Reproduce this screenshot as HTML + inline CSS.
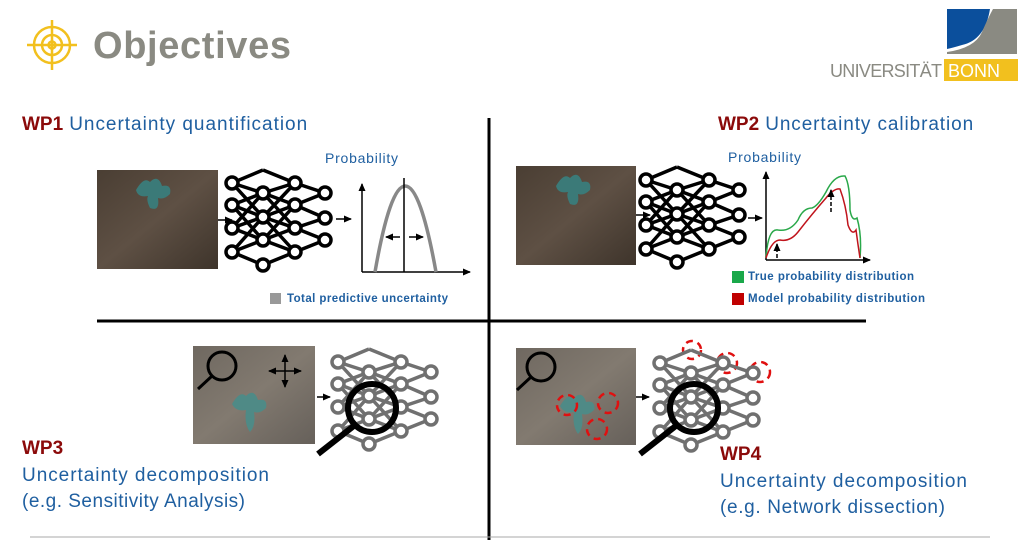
<!DOCTYPE html>
<html><head><meta charset="utf-8"><style>
html,body{margin:0;padding:0;background:#fff;}
svg{display:block;font-family:"Liberation Sans",sans-serif;}
</style></head><body>
<svg width="1024" height="551" viewBox="0 0 1024 551" xmlns="http://www.w3.org/2000/svg">
<defs>
<linearGradient id="soil" x1="0" y1="0" x2="1" y2="1">
<stop offset="0" stop-color="#4a3e33"/><stop offset="0.5" stop-color="#5e5044"/><stop offset="1" stop-color="#3e342b"/></linearGradient>
<linearGradient id="soil2" x1="0" y1="0" x2="1" y2="1">
<stop offset="0" stop-color="#6f6860"/><stop offset="0.5" stop-color="#827a70"/><stop offset="1" stop-color="#66605a"/></linearGradient>
<marker id="ar" markerUnits="userSpaceOnUse" markerWidth="8" markerHeight="8" refX="7" refY="4" orient="auto"><path d="M0,0.5L8,4L0,7.5z" fill="#000"/></marker>
<g id="net">
<g stroke-width="3.5" fill="none">
<path d="M0,13L31,0M0,13L31,23M0,35L31,23M0,35L31,47M0,58L31,47M0,58L31,70M0,82L31,70M0,82L31,95
M0,13L31,47M0,35L31,70M0,58L31,23M0,82L31,47
M31,0L63,13M31,23L63,13M31,23L63,35M31,47L63,35M31,47L63,58M31,70L63,58M31,70L63,82M31,95L63,82
M31,23L63,58M31,47L63,13M31,47L63,82M31,70L63,35
M63,13L93,23M63,35L93,23M63,35L93,48M63,58L93,48M63,58L93,70M63,82L93,70"/>
</g>
<g stroke-width="3.5" fill="#fff">
<circle cx="0" cy="13" r="6"/><circle cx="0" cy="35" r="6"/><circle cx="0" cy="58" r="6"/><circle cx="0" cy="82" r="6"/>
<circle cx="31" cy="23" r="6"/><circle cx="31" cy="47" r="6"/><circle cx="31" cy="70" r="6"/><circle cx="31" cy="95" r="6"/>
<circle cx="63" cy="13" r="6"/><circle cx="63" cy="35" r="6"/><circle cx="63" cy="58" r="6"/><circle cx="63" cy="82" r="6"/>
<circle cx="93" cy="23" r="6"/><circle cx="93" cy="48" r="6"/><circle cx="93" cy="70" r="6"/>
</g>
</g>
</defs>

<!-- header -->
<g stroke="#f2c01e" stroke-width="2.5" fill="none">
<circle cx="52" cy="45" r="18"/><circle cx="52" cy="45" r="10"/><circle cx="52" cy="45" r="3.5"/>
<path d="M52,20V70M27,45H77"/>
</g>
<text x="93" y="58" font-size="38" font-weight="bold" fill="#8a8a82" textLength="198">Objectives</text>
<path d="M947,9H990Q985,40 962,45Q952,48 947,49z" fill="#0b4f9c"/>
<path d="M993,9H1017V54H947V52Q975,48 982,32Q988,18 993,9z" fill="#8a8a82"/>
<text x="830" y="77" font-size="18" fill="#8a8a82" textLength="112">UNIVERSITÄT</text>
<rect x="944" y="59" width="74" height="22" fill="#f2c01e"/>
<text x="948" y="77" font-size="18" fill="#fff" textLength="52">BONN</text>

<!-- dividers -->
<line x1="489" y1="118" x2="489" y2="540" stroke="#000" stroke-width="3"/>
<line x1="97" y1="321" x2="866" y2="321" stroke="#000" stroke-width="3"/>
<line x1="30" y1="537" x2="990" y2="537" stroke="#aaa" stroke-width="1"/>

<!-- WP1 -->
<text x="22" y="130" font-size="19"><tspan fill="#8b0a0a" font-weight="bold">WP1</tspan><tspan fill="#1f5fa0" dx="6" textLength="238">Uncertainty quantification</tspan></text>
<rect x="97" y="170" width="121" height="99" fill="url(#soil)"/>
<path d="M136,190q8,-14 14,-8q8,-8 12,4q10,-2 8,8q-6,6 -12,4q2,14 -8,10q-4,-8 -2,-12q-10,2 -12,-6z" fill="#3b7a78"/>
<line x1="218" y1="220" x2="232" y2="220" stroke="#000" stroke-width="1.5" marker-end="url(#ar)"/>
<use href="#net" x="232" y="170" stroke="#000"/>
<line x1="336" y1="219" x2="351" y2="219" stroke="#000" stroke-width="1.5" marker-end="url(#ar)"/>
<text x="325" y="163" font-size="14" fill="#1f5fa0" textLength="73">Probability</text>
<line x1="362" y1="272" x2="362" y2="184" stroke="#000" stroke-width="1.5" marker-end="url(#ar)"/>
<line x1="362" y1="272" x2="470" y2="272" stroke="#000" stroke-width="1.5" marker-end="url(#ar)"/>
<path d="M375,272Q405,100 436,272" stroke="#888" stroke-width="3.5" fill="none"/>
<line x1="404" y1="178" x2="404" y2="272" stroke="#000" stroke-width="1.5"/>
<line x1="400" y1="237" x2="386" y2="237" stroke="#000" stroke-width="1.5" marker-end="url(#ar)"/>
<line x1="409" y1="237" x2="423" y2="237" stroke="#000" stroke-width="1.5" marker-end="url(#ar)"/>
<rect x="270" y="293" width="11" height="11" fill="#999"/>
<text x="287" y="302" font-size="11.5" font-weight="bold" fill="#1f5fa0" textLength="161">Total predictive uncertainty</text>

<!-- WP2 -->
<text x="718" y="130" font-size="19"><tspan fill="#8b0a0a" font-weight="bold">WP2</tspan><tspan fill="#1f5fa0" dx="6" textLength="208">Uncertainty calibration</tspan></text>
<rect x="516" y="166" width="120" height="99" fill="url(#soil)"/>
<path d="M556,186q8,-14 14,-8q8,-8 12,4q10,-2 8,8q-6,6 -12,4q2,14 -8,10q-4,-8 -2,-12q-10,2 -12,-6z" fill="#3b7a78"/>
<line x1="636" y1="215" x2="650" y2="215" stroke="#000" stroke-width="1.5" marker-end="url(#ar)"/>
<use href="#net" x="646" y="167" stroke="#000"/>
<line x1="748" y1="218" x2="762" y2="218" stroke="#000" stroke-width="1.5" marker-end="url(#ar)"/>
<text x="728" y="162" font-size="14" fill="#1f5fa0" textLength="73">Probability</text>
<line x1="766" y1="260" x2="766" y2="172" stroke="#000" stroke-width="1.5" marker-end="url(#ar)"/>
<line x1="766" y1="260" x2="870" y2="260" stroke="#000" stroke-width="1.5" marker-end="url(#ar)"/>
<path d="M766,258Q768,228 778,230Q790,232 798,220Q803,208 812,208Q818,206 826,192Q834,175 845,176Q850,185 850,210Q852,222 857,218Q862,235 860,258" stroke="#2aa84a" stroke-width="1.5" fill="none"/>
<path d="M766,258Q772,240 780,240Q790,242 798,232Q812,214 826,198Q834,188 840,189Q846,205 848,225Q852,236 856,230Q858,245 860,258" stroke="#c0141c" stroke-width="1.5" fill="none"/>
<line x1="777" y1="258" x2="777" y2="244" stroke="#000" stroke-width="1.5" stroke-dasharray="4,2" marker-end="url(#ar)"/>
<line x1="831" y1="212" x2="831" y2="190" stroke="#000" stroke-width="1.5" stroke-dasharray="4,2" marker-end="url(#ar)"/>
<rect x="732" y="271" width="12" height="12" fill="#1aa84a"/>
<text x="748" y="280" font-size="11.5" font-weight="bold" fill="#1f5fa0" textLength="166">True probability distribution</text>
<rect x="732" y="293" width="12" height="12" fill="#c00000"/>
<text x="748" y="302" font-size="11.5" font-weight="bold" fill="#1f5fa0" textLength="177">Model probability distribution</text>

<!-- WP3 -->
<rect x="193" y="346" width="122" height="98" fill="url(#soil2)"/>
<path d="M232,404q8,-14 14,-8q8,-8 12,4q10,-2 8,8q-6,6 -12,4q2,14 -4,20q-6,-8 -4,-22q-10,2 -14,-6z" fill="#4f8a86"/>
<g stroke="#000" stroke-width="3" fill="none"><circle cx="222" cy="366" r="14"/><path d="M212,376L198,389"/></g>
<g stroke="#000" stroke-width="1.5"><line x1="285" y1="371" x2="285" y2="355" marker-end="url(#ar)"/><line x1="285" y1="371" x2="285" y2="387" marker-end="url(#ar)"/><line x1="285" y1="371" x2="269" y2="371" marker-end="url(#ar)"/><line x1="285" y1="371" x2="301" y2="371" marker-end="url(#ar)"/></g>
<line x1="317" y1="397" x2="330" y2="397" stroke="#000" stroke-width="1.5" marker-end="url(#ar)"/>
<use href="#net" x="338" y="349" stroke="#707070"/>
<g stroke="#000" stroke-width="6" fill="none"><circle cx="372" cy="408" r="24"/><path d="M355,425L318,454"/></g>
<text x="22" y="454" font-size="19" font-weight="bold" fill="#8b0a0a">WP3</text>
<text x="22" y="481" font-size="19" fill="#1f5fa0" textLength="247">Uncertainty decomposition</text>
<text x="22" y="507" font-size="19" fill="#1f5fa0" textLength="223">(e.g. Sensitivity Analysis)</text>

<!-- WP4 -->
<rect x="516" y="348" width="120" height="97" fill="url(#soil2)"/>
<path d="M560,406q8,-14 14,-8q8,-8 12,4q10,-2 8,8q-6,6 -12,4q2,14 -4,20q-6,-8 -4,-22q-10,2 -14,-6z" fill="#4f8a86"/>
<g stroke="#000" stroke-width="3" fill="none"><circle cx="541" cy="367" r="14"/><path d="M531,377L517,390"/></g>
<g stroke="#e01010" stroke-width="2.5" fill="none" stroke-dasharray="7,5">
<circle cx="567" cy="405" r="10"/><circle cx="608" cy="403" r="10"/><circle cx="597" cy="429" r="10"/>
<circle cx="692" cy="350" r="9"/><circle cx="727" cy="363" r="10"/><circle cx="760" cy="372" r="10"/>
</g>
<line x1="636" y1="397" x2="649" y2="397" stroke="#000" stroke-width="1.5" marker-end="url(#ar)"/>
<use href="#net" x="660" y="350" stroke="#707070"/>
<g stroke="#000" stroke-width="6" fill="none"><circle cx="694" cy="408" r="24"/><path d="M677,425L640,454"/></g>
<text x="720" y="460" font-size="19" font-weight="bold" fill="#8b0a0a">WP4</text>
<text x="720" y="487" font-size="19" fill="#1f5fa0" textLength="247">Uncertainty decomposition</text>
<text x="720" y="513" font-size="19" fill="#1f5fa0" textLength="225">(e.g. Network dissection)</text>
</svg>
</body></html>
